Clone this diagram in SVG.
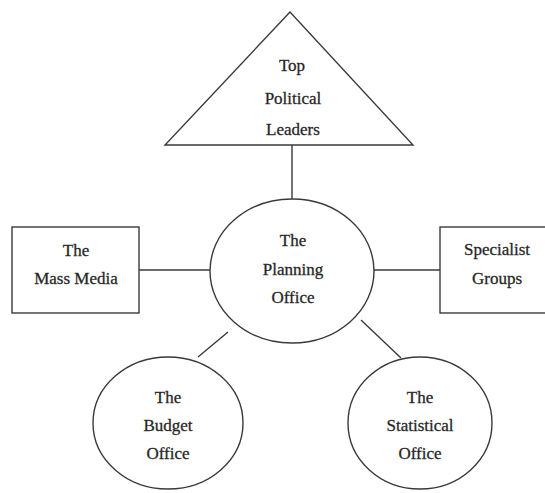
<svg xmlns="http://www.w3.org/2000/svg" width="545" height="493" viewBox="0 0 545 493">
<style>
.shape{fill:#fff;stroke:#3a3a3a;stroke-width:1.4}
.conn{stroke:#3a3a3a;stroke-width:1.4;fill:none}
text{font-family:"Liberation Serif","Times New Roman",serif;font-size:17px;fill:#222;stroke:#333;stroke-width:0.3;text-anchor:middle}
</style>
<rect width="545" height="493" fill="#fff"/>
<g id="connectors">
<line class="conn" x1="292" y1="145" x2="292" y2="199"/>
<line class="conn" x1="139" y1="270" x2="210" y2="270"/>
<line class="conn" x1="374" y1="270" x2="440" y2="270"/>
<line class="conn" x1="228" y1="332" x2="198" y2="357"/>
<line class="conn" x1="361" y1="320" x2="401" y2="358"/>
</g>
<g id="top-political-leaders">
<polygon class="shape" points="290,12 165,145 413,145"/>
<text x="292" y="71">Top</text>
<text x="293" y="104">Political</text>
<text x="293" y="135">Leaders</text>
</g>
<g id="planning-office">
<ellipse class="shape" cx="292" cy="271" rx="82" ry="72"/>
<text x="293" y="246">The</text>
<text x="293" y="275">Planning</text>
<text x="293" y="303">Office</text>
</g>
<g id="mass-media">
<rect class="shape" x="12" y="227" width="127" height="86"/>
<text x="76" y="256">The</text>
<text x="76" y="284">Mass Media</text>
</g>
<g id="specialist-groups">
<rect class="shape" x="440" y="227" width="120" height="86"/>
<text x="497" y="255">Specialist</text>
<text x="497" y="284">Groups</text>
</g>
<g id="budget-office">
<ellipse class="shape" cx="168" cy="423" rx="75" ry="66"/>
<text x="168" y="403">The</text>
<text x="168" y="431">Budget</text>
<text x="168" y="459">Office</text>
</g>
<g id="statistical-office">
<ellipse class="shape" cx="420" cy="423" rx="72" ry="66"/>
<text x="420" y="403">The</text>
<text x="420" y="431">Statistical</text>
<text x="420" y="459">Office</text>
</g>
</svg>
